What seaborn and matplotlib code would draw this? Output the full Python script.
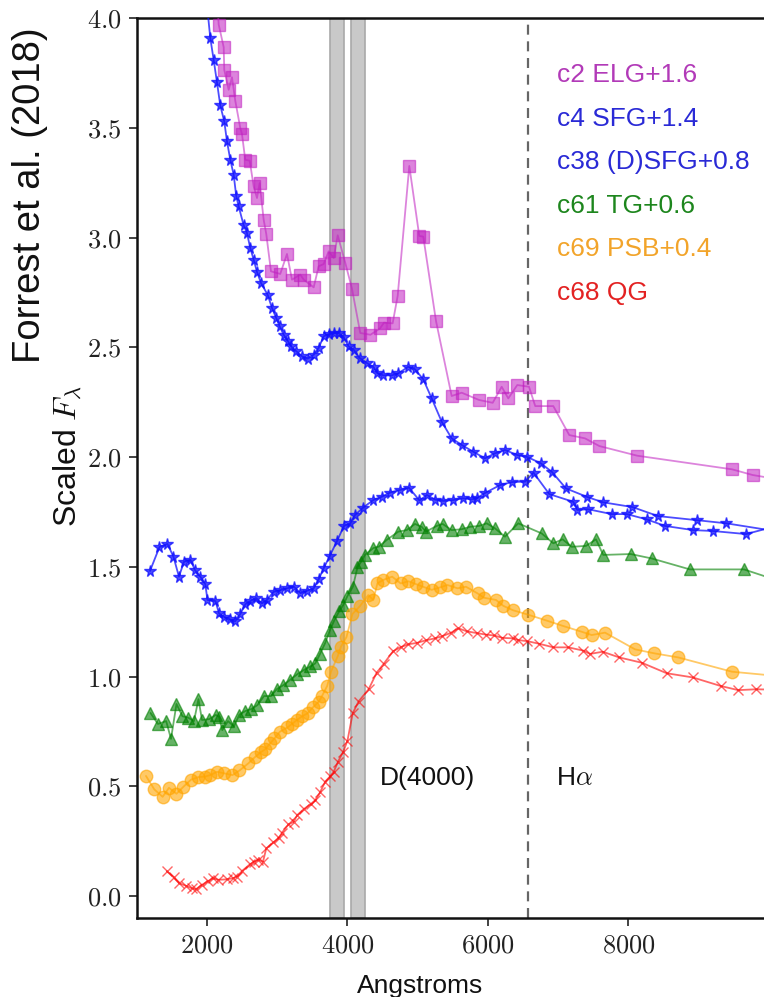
import numpy as np
import pandas as pd
import matplotlib
matplotlib.use("Agg")
import matplotlib.pyplot as plt
from matplotlib.ticker import FuncFormatter, FixedLocator
import seaborn as sns

# ---------------- data ----------------
lam_c2 = [2120, 2167, 2238, 2246, 2309, 2356, 2403, 2474, 2498, 2545, 2608, 2665, 2712, 2750,
          2807, 2844, 2911, 3043, 3139, 3210, 3328, 3377, 3519, 3590, 3661, 3732, 3804, 3861,
          3969, 4064, 4182, 4327, 4463, 4520, 4643, 4715, 4880, 5022, 5079, 5260, 5483, 5626,
          5872, 6067, 6195, 6289, 6417, 6584, 6673, 6930, 7157, 7381, 7585, 8125, 9473, 9768, 10100]
flux_c2 = [4.20, 3.97, 3.867, 3.764, 3.673, 3.730, 3.623, 3.499, 3.472, 3.354, 3.350, 3.233, 3.180,
           3.248, 3.081, 3.016, 2.846, 2.834, 2.925, 2.808, 2.831, 2.808, 2.773, 2.869, 2.879, 2.937,
           2.907, 3.010, 2.884, 2.767, 2.565, 2.557, 2.586, 2.612, 2.609, 2.735, 3.326, 3.007, 3.004,
           2.620, 2.278, 2.293, 2.260, 2.247, 2.320, 2.267, 2.328, 2.320, 2.232, 2.232, 2.100, 2.085,
           2.050, 2.006, 1.944, 1.918, 1.90]

lam_c4 = [2000, 2047, 2095, 2142, 2189, 2246, 2285, 2332, 2380, 2417, 2451, 2522, 2569, 2616, 2665,
          2712, 2769, 2864, 2925, 2986, 3035, 3092, 3149, 3196, 3271, 3352, 3433, 3519, 3590, 3661,
          3732, 3804, 3875, 3946, 4017, 4088, 4174, 4278, 4373, 4416, 4510, 4629, 4723, 4865, 4961,
          5079, 5199, 5341, 5483, 5626, 5791, 5957, 6100, 6242, 6417, 6562, 6754, 6911, 7110, 7405,
          7633, 8057, 8420, 8982, 9392, 10100]
flux_c4 = [4.06, 3.909, 3.810, 3.708, 3.602, 3.529, 3.438, 3.354, 3.286, 3.188, 3.142, 3.056, 3.021,
           2.952, 2.899, 2.843, 2.793, 2.739, 2.679, 2.633, 2.595, 2.557, 2.530, 2.504, 2.482, 2.459,
           2.448, 2.466, 2.497, 2.550, 2.560, 2.565, 2.565, 2.545, 2.504, 2.489, 2.451, 2.428, 2.409,
           2.384, 2.372, 2.372, 2.381, 2.411, 2.400, 2.354, 2.267, 2.161, 2.085, 2.055, 2.024, 1.994,
           2.017, 2.032, 2.009, 2.000, 1.971, 1.932, 1.857, 1.819, 1.794, 1.772, 1.731, 1.712, 1.698,
           1.662]

lam_c38 = [1189, 1324, 1438, 1523, 1601, 1673, 1765, 1829, 1905, 1976, 2007, 2121, 2171, 2242, 2323,
           2399, 2474, 2548, 2619, 2698, 2783, 2854, 2949, 3046, 3139, 3238, 3331, 3424, 3519, 3590,
           3661, 3747, 3851, 3950, 4040, 4107, 4225, 4367, 4487, 4605, 4747, 4876, 5025, 5132, 5246,
           5364, 5506, 5644, 5768, 5839, 5957, 6171, 6342, 6527, 6648, 6873, 7214, 7271, 7428, 7761,
           7975, 8259, 8520, 8922, 9199, 9673, 10100]
flux_c38 = [1.481, 1.590, 1.604, 1.546, 1.455, 1.523, 1.532, 1.485, 1.455, 1.421, 1.349, 1.344, 1.288,
            1.272, 1.261, 1.251, 1.285, 1.330, 1.344, 1.358, 1.333, 1.349, 1.386, 1.394, 1.402, 1.409,
            1.380, 1.391, 1.402, 1.443, 1.493, 1.549, 1.617, 1.686, 1.698, 1.736, 1.770, 1.804, 1.819,
            1.838, 1.850, 1.860, 1.802, 1.827, 1.806, 1.800, 1.804, 1.812, 1.807, 1.812, 1.836, 1.872,
            1.886, 1.888, 1.929, 1.831, 1.796, 1.759, 1.762, 1.740, 1.740, 1.716, 1.686, 1.667, 1.663,
            1.649, 1.685]

lam_c61 = [1196, 1302, 1419, 1488, 1566, 1651, 1730, 1815, 1879, 1929, 2033, 2125, 2171, 2218, 2299,
           2384, 2463, 2548, 2633, 2719, 2811, 2911, 2996, 3089, 3184, 3288, 3381, 3473, 3542, 3609,
           3683, 3751, 3808, 3883, 3940, 4000, 4078, 4142, 4192, 4249, 4367, 4448, 4558, 4723, 4843,
           4961, 5056, 5117, 5270, 5355, 5483, 5626, 5744, 5876, 5982, 6100, 6242, 6431, 6764, 6930,
           7063, 7191, 7395, 7537, 7641, 8031, 8330, 8875, 9644, 10100]
flux_c61 = [0.834, 0.784, 0.797, 0.716, 0.875, 0.819, 0.813, 0.797, 0.897, 0.802, 0.806, 0.825, 0.817,
            0.756, 0.797, 0.773, 0.827, 0.843, 0.852, 0.870, 0.911, 0.911, 0.943, 0.961, 0.985, 1.011,
            1.030, 1.046, 1.060, 1.103, 1.153, 1.212, 1.253, 1.298, 1.326, 1.367, 1.410, 1.497, 1.522,
            1.554, 1.585, 1.592, 1.622, 1.660, 1.667, 1.695, 1.682, 1.660, 1.686, 1.695, 1.667, 1.671,
            1.682, 1.686, 1.698, 1.675, 1.637, 1.698, 1.652, 1.607, 1.625, 1.591, 1.595, 1.625, 1.554,
            1.558, 1.538, 1.488, 1.488, 1.44]

lam_c69 = [1132, 1250, 1369, 1459, 1566, 1665, 1772, 1879, 1972, 2047, 2142, 2246, 2363, 2463, 2591,
           2683, 2769, 2826, 2904, 2961, 3039, 3146, 3210, 3281, 3359, 3431, 3506, 3590, 3637, 3711,
           3765, 3862, 3907, 3986, 4071, 4178, 4296, 4367, 4427, 4510, 4636, 4759, 4866, 4975, 5075,
           5199, 5317, 5423, 5566, 5687, 5851, 5943, 6114, 6218, 6356, 6569, 6844, 7072, 7334, 7476,
           7666, 8093, 8363, 8709, 9473, 10100]
flux_c69 = [0.547, 0.486, 0.452, 0.493, 0.466, 0.498, 0.530, 0.542, 0.544, 0.551, 0.566, 0.559, 0.551,
            0.572, 0.605, 0.633, 0.656, 0.668, 0.697, 0.718, 0.749, 0.768, 0.784, 0.802, 0.820, 0.832,
            0.859, 0.885, 0.911, 0.957, 1.022, 1.093, 1.136, 1.180, 1.285, 1.321, 1.371, 1.349, 1.425,
            1.440, 1.455, 1.424, 1.434, 1.421, 1.409, 1.395, 1.406, 1.417, 1.402, 1.409, 1.379, 1.359,
            1.349, 1.322, 1.302, 1.282, 1.254, 1.230, 1.204, 1.189, 1.200, 1.124, 1.106, 1.087, 1.022,
            1.003]

lam_c68 = [1428, 1526, 1601, 1708, 1786, 1843, 1929, 2021, 2085, 2164, 2278, 2366, 2427, 2502, 2609,
           2665, 2733, 2797, 2844, 2942, 3021, 3068, 3160, 3234, 3285, 3378, 3480, 3542, 3609, 3683,
           3754, 3804, 3865, 3939, 4000, 4074, 4157, 4303, 4416, 4514, 4648, 4759, 4866, 4985, 5115,
           5246, 5341, 5471, 5577, 5697, 5839, 5969, 6088, 6206, 6360, 6431, 6562, 6733, 6930, 7143,
           7357, 7452, 7633, 7869, 8188, 8544, 8914, 9312, 9563, 9815, 10100]
flux_c68 = [0.113, 0.085, 0.059, 0.046, 0.035, 0.031, 0.051, 0.069, 0.081, 0.074, 0.076, 0.081, 0.088,
            0.115, 0.144, 0.156, 0.165, 0.156, 0.217, 0.244, 0.263, 0.289, 0.326, 0.338, 0.369, 0.396,
            0.420, 0.437, 0.472, 0.521, 0.546, 0.566, 0.612, 0.657, 0.708, 0.832, 0.886, 0.943, 1.018,
            1.057, 1.115, 1.134, 1.147, 1.153, 1.165, 1.174, 1.183, 1.199, 1.220, 1.206, 1.198, 1.191,
            1.187, 1.176, 1.174, 1.166, 1.161, 1.149, 1.133, 1.133, 1.118, 1.103, 1.113, 1.087, 1.063,
            1.015, 0.996, 0.957, 0.938, 0.942, 0.94]

labels = ["c2 ELG+1.6", "c4 SFG+1.4", "c38 (D)SFG+0.8", "c61 TG+0.6", "c69 PSB+0.4", "c68 QG"]
d4000_bands = [(3750, 3950), (4050, 4250)]
halpha = 6563
x_ticks = [2000, 4000, 6000, 8000]
y_ticks = [0.0, 0.5, 1.0, 1.5, 2.0, 2.5, 3.0, 3.5, 4.0]

# ---------------- style ----------------
sns.set_style("ticks")
plt.rcParams["font.family"] = ["Liberation Sans", "DejaVu Sans"]
plt.rcParams["mathtext.fontset"] = "cm"

fig = plt.figure(figsize=(7.64, 9.97), dpi=100)
ax = fig.add_axes([137 / 764, 1 - 918 / 997, 1 - 137 / 764, 900 / 997])

series = [
    (lam_c2, flux_c2, "#c020c0", "s", 8.5, 0.55),
    (lam_c4, flux_c4, "#1010ff", "*", 8.5, 0.75),
    (lam_c38, flux_c38, "#1010ff", "*", 8.5, 0.75),
    (lam_c61, flux_c61, "#008000", "^", 8.5, 0.6),
    (lam_c69, flux_c69, "#ffa500", "o", 9, 0.6),
    (lam_c68, flux_c68, "#ff0000", "x", 7, 0.6),
]
for lam, flux, col, mk, ms, al in series:
    df = pd.DataFrame({"lam": lam, "flux": flux})
    sns.lineplot(data=df, x="lam", y="flux", ax=ax, color=col, marker=mk, markersize=ms,
                 markeredgecolor=col, markerfacecolor=col, markeredgewidth=1.0,
                 alpha=al, lw=1.3, sort=False, estimator=None, zorder=3)

for lo, hi in d4000_bands:
    ax.axvspan(lo, hi, facecolor="#c9c9c9", edgecolor="#a9a9a9", lw=1.2, zorder=1)
ax.axvline(halpha, color="#666666", ls=(0, (4.5, 3)), lw=1.6, zorder=2)

ax.text(4455, 0.54, "D(4000)", fontsize=19, va="center", ha="left", color="#111111")
ax.text(6975, 0.54, r"H$\alpha$", fontsize=19, va="center", ha="left", color="#111111")

text_cols = ["#b23ab8", "#2a2ad6", "#2a2ad6", "#1d861d", "#f2a42a", "#e32222"]
for i, (lab, tc) in enumerate(zip(labels, text_cols)):
    ypx = 75 + 43.5 * i
    ax.text((557 - 137) / 627, (918 - ypx) / 900, lab, transform=ax.transAxes,
            fontsize=19, color=tc, va="center", ha="left")

ax.set_xlim(1004, 9929)
ax.set_ylim(-0.1, 4.0)
ax.xaxis.set_major_locator(FixedLocator(x_ticks))
ax.yaxis.set_major_locator(FixedLocator(y_ticks))
ax.xaxis.set_major_formatter(FuncFormatter(lambda v, p: f"${v:.0f}$"))
ax.yaxis.set_major_formatter(FuncFormatter(lambda v, p: f"${v:.1f}$"))
ax.tick_params(axis="both", direction="out", length=6, width=1.2, labelsize=19,
               colors="#222222", pad=5)
for s in ["left", "top", "bottom"]:
    ax.spines[s].set_linewidth(1.8)
    ax.spines[s].set_color("#111111")
ax.spines["right"].set_visible(False)

ax.set_xlabel("Angstroms", fontsize=19, color="#111111")
ax.xaxis.set_label_coords((420 - 137) / 627, -0.062)
ax.set_ylabel(r"Scaled $F_\lambda$", fontsize=23, color="#111111")
ax.yaxis.set_label_coords(-(137 - 84) / 627, (918 - 456) / 900)

fig.text(30 / 764, 1 - 195 / 997, "Forrest et al. (2018)", rotation=90, fontsize=27.5,
         ha="center", va="center", color="#111111")

fig.savefig("out.png", dpi=100)
